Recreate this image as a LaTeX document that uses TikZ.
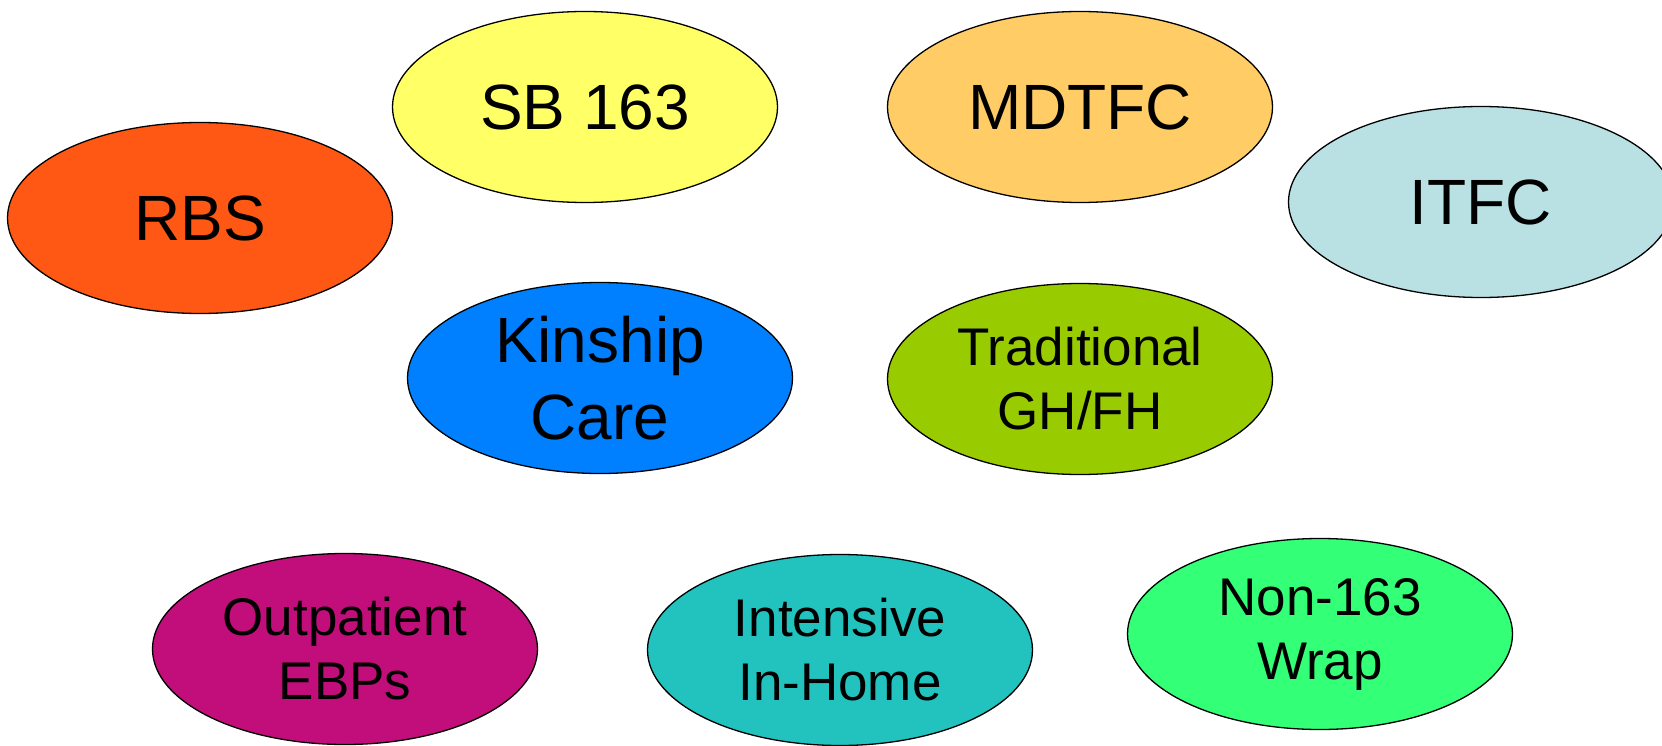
\documentclass[tikz,border=0pt]{standalone}
\usepackage{fontspec}
\setmainfont{Liberation Sans}
\usetikzlibrary{shapes.geometric}
\definecolor{cRBS}{HTML}{FF5714}
\definecolor{cSB}{HTML}{FFFF66}
\definecolor{cMD}{HTML}{FFCC66}
\definecolor{cIT}{HTML}{B9E0E3}
\definecolor{cKin}{HTML}{0080FF}
\definecolor{cTrad}{HTML}{99CC00}
\definecolor{cOut}{HTML}{C20E7A}
\definecolor{cInt}{HTML}{22C3BE}
\definecolor{cNon}{HTML}{33FF77}
\tikzset{
  oval/.style={ellipse, draw=black, line width=1.3pt, minimum width=385pt, minimum height=191pt, inner sep=0pt, align=center, text=black},
  bigtext/.style={font=\fontsize{64}{77}\selectfont},
  smalltext/.style={font=\fontsize{53}{64}\selectfont}
}
\begin{document}
\begin{tikzpicture}[x=1pt,y=-1pt]
\useasboundingbox (0,0) rectangle (1662,746);
\clip (0,0) rectangle (1662,746);
\fill[white] (0,0) rectangle (1662,746);
\node[oval, bigtext, fill=cRBS] (rbs) at (200,218) {RBS};
\node[oval, bigtext, fill=cSB] (sb) at (585,107) {SB 163};
\node[oval, bigtext, fill=cMD] (md) at (1080,107) {MDTFC};
\node[oval, bigtext, fill=cIT] (it) at (1481,202) {ITFC};
\node[oval, bigtext, fill=cKin] (kin) at (600,378) {Kinship\\Care};
\node[oval, smalltext, fill=cTrad] (trad) at (1080,379) {Traditional\\GH/FH};
\node[oval, smalltext, fill=cOut] (out) at (345,649) {Outpatient\\EBPs};
\node[oval, smalltext, fill=cInt] (int) at (840,650) {Intensive\\In-Home};
\node[oval, smalltext, fill=cNon] (non) at (1320,634) {Non-163\\Wrap};
\end{tikzpicture}
\end{document}
